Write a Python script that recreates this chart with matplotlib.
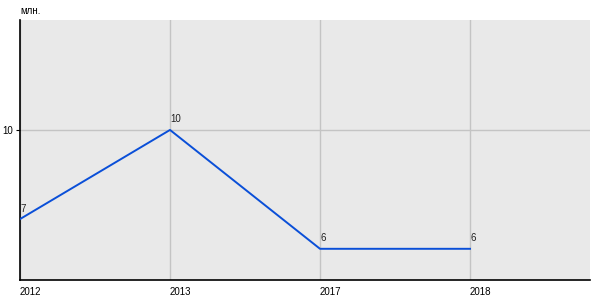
import matplotlib
matplotlib.use("Agg")
import matplotlib.pyplot as plt

years = ["2012", "2013", "2017", "2018"]
values = [7, 10, 6, 6]
value_labels = ["7", "10", "6", "6"]
y_ticks = [10]
y_unit = "млн."

plt.rcParams['font.family'] = ['Liberation Sans', 'DejaVu Sans']

fig = plt.figure(figsize=(6, 3), dpi=100)
ax = fig.add_axes([20/600, 20/300, 570/600, 260/300])
ax.set_facecolor("#e9e9e9")

x = list(range(len(years)))
ax.plot(x, values, color="#0a4fd8", linewidth=1.4, zorder=3)
for xi, v, lab in zip(x, values, value_labels):
    ax.annotate(lab, (xi, v), xytext=(0.5, 4), textcoords="offset points",
                ha="left", va="bottom", fontsize=7, color="#222222", zorder=4)

ax.set_xlim(0, 3.8)
ax.set_ylim(4.95, 13.7)
ax.set_xticks(x)
ax.set_xticklabels(years, ha="left", fontsize=7)
ax.set_yticks(y_ticks)
ax.set_yticklabels([str(t) for t in y_ticks], fontsize=7)
ax.tick_params(axis="x", length=0, pad=5)
ax.tick_params(axis="y", length=3, width=0.8, pad=2)
ax.grid(True, color="#c4c4c4", linewidth=1, zorder=1)
ax.set_axisbelow(True)
for s in ["top", "right"]:
    ax.spines[s].set_visible(False)
ax.spines["left"].set_linewidth(1.2)
ax.spines["bottom"].set_linewidth(1.2)
fig.text(20/600, 1 - 11/300, y_unit, fontsize=7, ha="left", va="center")

fig.savefig("out.png", dpi=100)
